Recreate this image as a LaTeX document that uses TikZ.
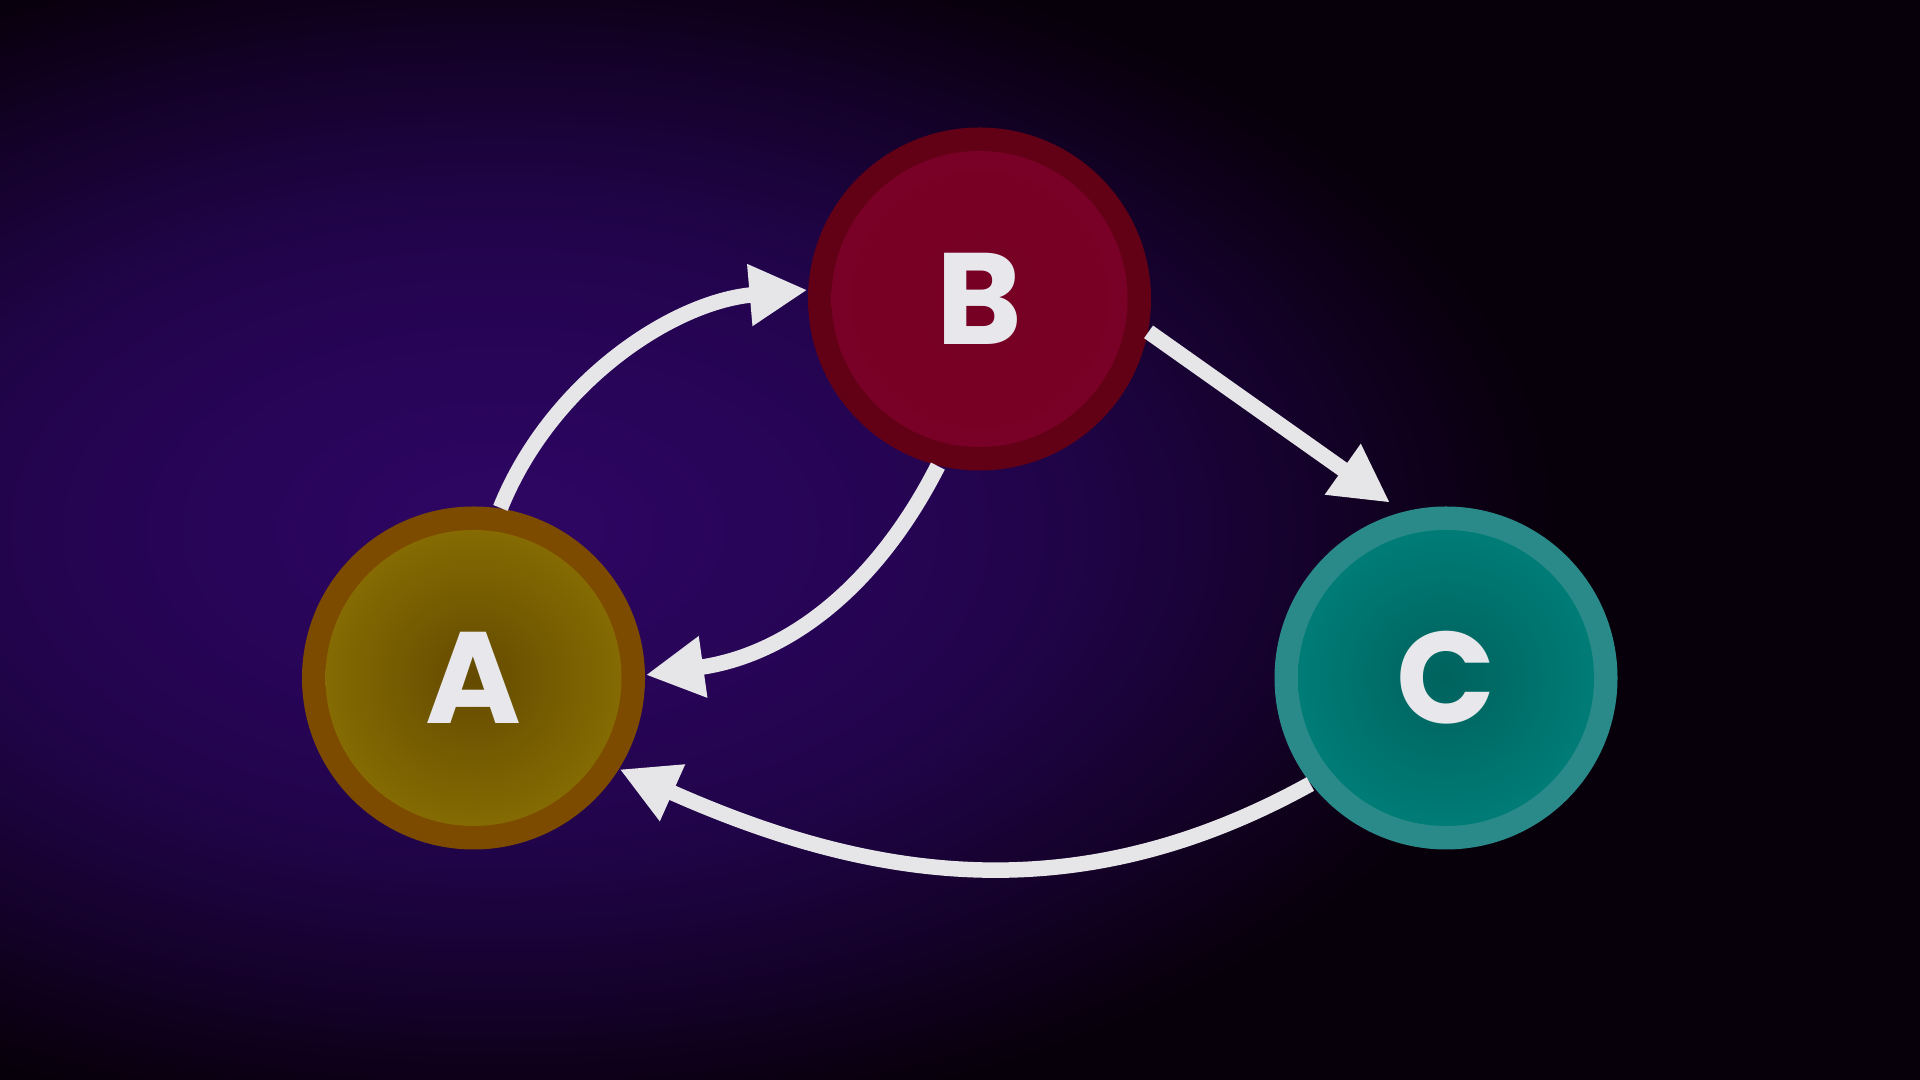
\documentclass[tikz,border=0pt]{standalone}
\usepackage{fontspec}
\newfontfamily\lblfont{Poppins}
\usetikzlibrary{arrows.meta}
\definecolor{bg0}{RGB}{46,6,100}
\definecolor{bg1}{RGB}{37,4,82}
\definecolor{bg2}{RGB}{31,4,70}
\definecolor{bg3}{RGB}{19,1,38}
\definecolor{bg4}{RGB}{10,0,16}
\definecolor{bg5}{RGB}{7,0,10}
\definecolor{ringA}{RGB}{124,75,0}
\definecolor{inA}{RGB}{100,74,0}
\definecolor{outA}{RGB}{138,112,2}
\definecolor{ringB}{RGB}{98,0,22}
\definecolor{inB}{RGB}{118,0,36}
\definecolor{outB}{RGB}{122,0,38}
\definecolor{ringC}{RGB}{42,138,138}
\definecolor{inC}{RGB}{0,98,93}
\definecolor{outC}{RGB}{0,128,122}
\definecolor{arrowcol}{RGB}{230,230,232}
\definecolor{lettercol}{RGB}{232,232,236}
\pgfdeclareradialshading{bgglow}{\pgfpoint{0bp}{0bp}}{%
  color(0bp)=(bg0); color(10bp)=(bg1); color(13.75bp)=(bg2);
  color(20bp)=(bg3); color(23.75bp)=(bg4); color(25bp)=(bg5); color(50bp)=(bg5)}
\tikzset{
  bubble/.style n args={3}{circle, minimum size=3.43cm, inner sep=0pt,
    fill=#1, text=lettercol, font=\lblfont\bfseries\fontsize{37}{37}\selectfont,
    path picture={\shade[inner color=#2, outer color=#3]
      (path picture bounding box.center) circle (1.48cm);}},
  flow/.style={draw=arrowcol, line width=0.155cm,
    -{Triangle[length=0.58cm, width=0.58cm]}}
}
\begin{document}
\begin{tikzpicture}
\useasboundingbox (0,0) rectangle (19.2,10.8);
\begin{scope}
  \clip (0,0) rectangle (19.2,10.8);
  \fill[bg5] (0,0) rectangle (19.2,10.8);
  \shade[shading=bgglow] (5.0,5.5) ellipse (10.6 and 6.1);
\end{scope}

\node[bubble={ringA}{inA}{outA}] (A) at (4.735,4.02) {A};
\node[bubble={ringB}{inB}{outB}] (B) at (9.795,7.81) {B};
\node[bubble={ringC}{inC}{outC}] (C) at (14.46,4.02) {C};
\coordinate (Ctip) at ([shift={(107.7:1.84)}]C.center);

\draw[flow] (A.81) to[out=68, in=185, looseness=0.92] (B.177);
\draw[flow] (B.-11) -- (Ctip);
\draw[flow] (B.256) to[out=243, in=8] (A.1);
\draw[flow] (C.218) to[out=209, in=-24] (A.-32);
\end{tikzpicture}
\end{document}
